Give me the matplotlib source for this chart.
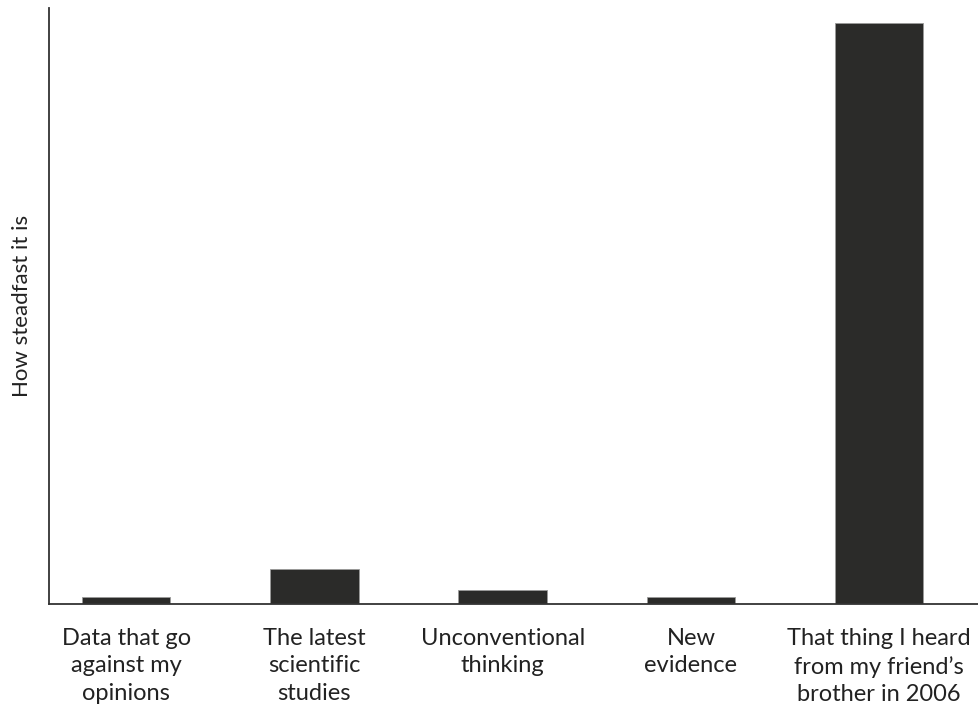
import matplotlib.pyplot as plt

# labels and rough bar heights (no scale shown)
labels = ["Data that go\nagainst my\nopinions",
          "The latest\nscientific\nstudies",
          "Unconventional\nthinking",
          "New\nevidence",
          "That thing I heard\nfrom my friend\u2019s\nbrother in 2006"]
values = [1.2, 5.8, 2.4, 1.1, 97.5]

plt.rcParams['font.family'] = ['Lato', 'DejaVu Sans']

fig = plt.figure(figsize=(9.79, 7.08), dpi=100)
ax = fig.add_axes([0.050, 0.147, 0.95, 0.842])

pos = list(range(len(values)))
ax.bar(pos, values, width=0.47, color='#2b2b29', edgecolor='#9a9a9a', linewidth=0.6)

ax.set_xlim(-0.41, 4.53)
ax.set_ylim(0, 100)
ax.set_xticks(pos)
ax.set_xticklabels(labels, fontsize=17, color='#222222', linespacing=1.4)
ax.tick_params(axis='x', length=0, pad=17)
ax.set_yticks([])
ax.set_ylabel("How steadfast it is", fontsize=16, color='#222222', labelpad=12)

for s in ['top', 'right']:
    ax.spines[s].set_visible(False)
for s in ['left', 'bottom']:
    ax.spines[s].set_color('#333333')
    ax.spines[s].set_linewidth(1.3)

fig.savefig('out.png', dpi=100)
